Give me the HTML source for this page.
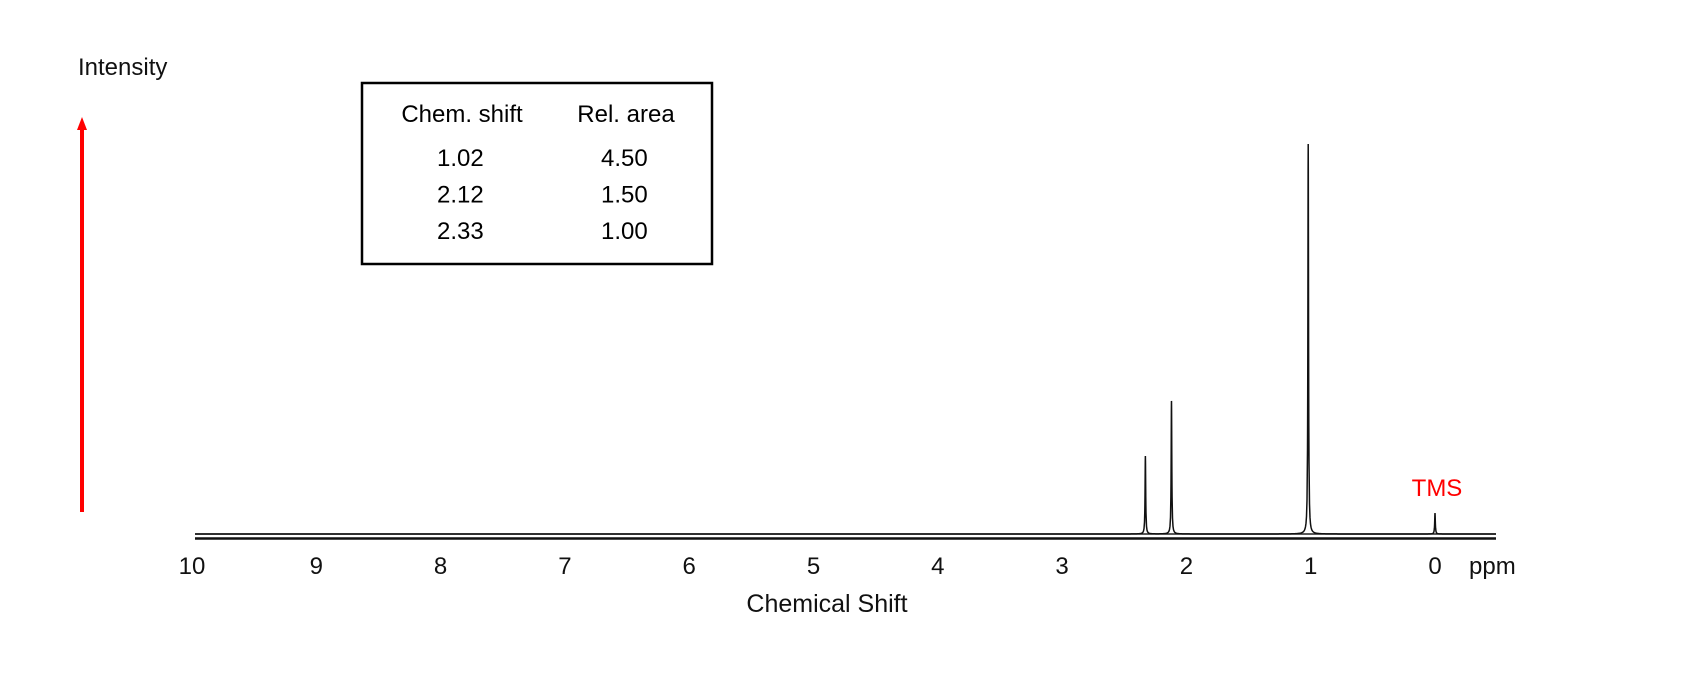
<!DOCTYPE html>
<html><head><meta charset="utf-8"><style>
body{margin:0;background:#fff}
svg{display:block;font-family:"Liberation Sans",sans-serif}
</style></head><body>
<svg width="1700" height="700" viewBox="0 0 1700 700">
<rect width="1700" height="700" fill="#fff"/>
<text x="78" y="75" font-size="24" fill="#111">Intensity</text>
<line x1="82" y1="512" x2="82" y2="128" stroke="#f00" stroke-width="4"/>
<polygon points="82,117 77,130 87,130" fill="#f00"/>
<g>
<rect x="362" y="83" width="350" height="181" fill="none" stroke="#000" stroke-width="2.5"/>
<text x="462" y="122" font-size="24" text-anchor="middle">Chem. shift</text>
<text x="626" y="122" font-size="24" text-anchor="middle">Rel. area</text>
<g id="rows"></g>
</g>
<g id="axis">
<line x1="195" y1="534" x2="1496" y2="534" stroke="#222" stroke-width="1.5"/>
<line x1="195" y1="538.5" x2="1496" y2="538.5" stroke="#111" stroke-width="2.5"/>
</g>
<path id="spec" fill="none" stroke="#111" stroke-width="1.5"/>
<text x="1437" y="496" font-size="24" fill="#f00" text-anchor="middle">TMS</text>
<text x="1469" y="574" font-size="24" fill="#111">ppm</text>
<text x="827" y="612" font-size="25" fill="#111" text-anchor="middle">Chemical Shift</text>
</svg>
<script>
const tickLabels=[10,9,8,7,6,5,4,3,2,1,0];
const peakShifts=[2.33,2.12,1.02,0.0];
const peakHeights=[78,133,390,21];
const tableShifts=["1.02","2.12","2.33"];
const tableAreas=["4.50","1.50","1.00"];
const NS="http://www.w3.org/2000/svg";
const x=p=>1435-p*124.3;
const y=v=>534-v;
const ax=document.getElementById('axis');
tickLabels.forEach(t=>{
  const e=document.createElementNS(NS,'text');
  e.setAttribute('x',x(t));e.setAttribute('y',574);
  e.setAttribute('font-size','24');e.setAttribute('text-anchor','middle');e.setAttribute('fill','#111');
  e.textContent=t;
  
  
  ax.appendChild(e);
});
const rows=document.getElementById('rows');
tableShifts.forEach((s,i)=>{
  [[s,437],[tableAreas[i],601]].forEach(([txt,cx],j)=>{
    const e=document.createElementNS(NS,'text');
    e.setAttribute('x',cx);e.setAttribute('y',166+i*36.5);e.setAttribute('font-size','24');
    e.textContent=txt;
    
    
    rows.appendChild(e);
  });
});
const w=0.003;
const xs=[];
for(let px=195;px<=1496;px+=0.5)xs.push(px);
peakShifts.forEach(c=>{const cx=x(c);for(let k=-6;k<=6;k++)xs.push(cx+k*0.1);});
xs.sort((a,b)=>a-b);
let d='';
xs.forEach(px=>{
  const p=(1435-px)/124.3;
  let v=0;
  peakShifts.forEach((c,i)=>{const u=(p-c)/w;v+=peakHeights[i]/(1+u*u);});
  d+=(d?'L':'M')+px.toFixed(2)+','+y(v).toFixed(2);
});
document.getElementById('spec').setAttribute('d',d);
</script>
</body></html>
